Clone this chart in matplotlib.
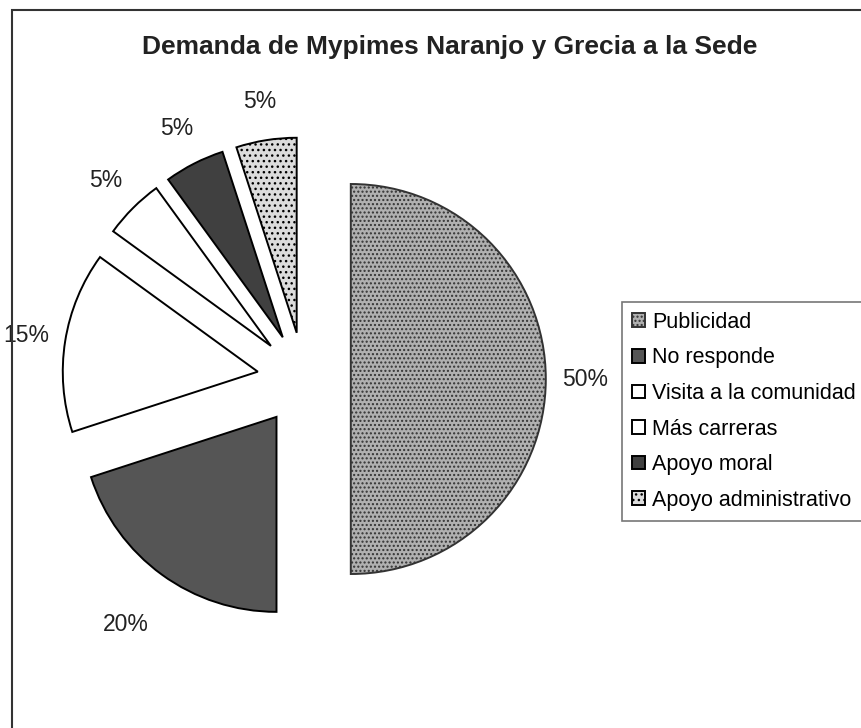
import matplotlib.pyplot as plt
from matplotlib.patches import Rectangle

plt.rcParams['font.family'] = ['Liberation Sans', 'DejaVu Sans']

categorias = ['Publicidad', 'No responde', 'Visita a la comunidad',
              'Más carreras', 'Apoyo moral', 'Apoyo administrativo']
valores = [50, 20, 15, 5, 5, 5]
colores = ['#b0b0b0', '#555555', '#ffffff', '#ffffff', '#404040', '#dcdcdc']
separacion = [0.24] * 6

W, H = 862, 728
fig = plt.figure(figsize=(W / 100, H / 100), dpi=100)

# pie centre ~ (304, 379) px, radius ~195 px
r = 195
cx, cy = 304, 379
ax = fig.add_axes([(cx - 1.5 * r) / W, (H - cy - 1.5 * r) / H, 3 * r / W, 3 * r / H])

wedges, textos, pct = ax.pie(valores, colors=colores, explode=separacion,
                             startangle=90, counterclock=False,
                             autopct='%1.0f%%', pctdistance=1.2,
                             wedgeprops=dict(edgecolor='black', linewidth=1.4),
                             textprops=dict(fontsize=16.5, color='#222222'))
ax.set_xlim(-1.5, 1.5)
ax.set_ylim(-1.5, 1.5)
ax.set_aspect('equal')
ax.axis('off')

# the 20% label sits a bit further out in the original
px, py = pct[1].get_position()
pct[1].set_position((px * 1.08, py * 1.08))

# texture-ish look on the grey slices
wedges[0].set_hatch('....')
wedges[0].set_edgecolor('#333333')
wedges[5].set_hatch('...')

fig.text(450 / W, 1 - 47 / H, 'Demanda de Mypimes Naranjo y Grecia a la Sede',
         ha='center', va='center', fontsize=19, fontweight='bold', color='#222222')

leg = fig.legend(wedges, categorias, loc='upper left',
                 bbox_to_anchor=(622 / W, 1 - 302 / H), fontsize=15.5,
                 frameon=True, fancybox=False, edgecolor='#555555',
                 handlelength=0.6, handleheight=0.6, handletextpad=0.35,
                 labelspacing=0.68, borderpad=0.45, borderaxespad=0)
leg.get_frame().set_linewidth(1.2)

fig.patches.append(Rectangle((12 / W, -0.1), 1.1, 1 - 10 / H + 0.1,
                             transform=fig.transFigure, fill=False,
                             edgecolor='#333333', linewidth=1.5))

fig.savefig('out.png', dpi=100, facecolor='white')
